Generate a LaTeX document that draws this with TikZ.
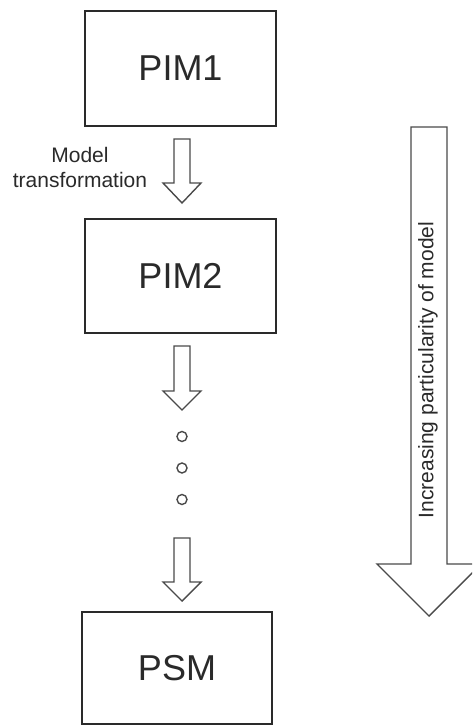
\documentclass[tikz,border=0pt]{standalone}
\usepackage{fontspec}
\setmainfont{Liberation Sans}
\definecolor{inkline}{HTML}{2A2A2A}
\definecolor{arrowgrey}{HTML}{4A4A4A}
\tikzset{
  modelbox/.style={draw=inkline, line width=1.6pt, rectangle, inner sep=0pt,
    text=inkline, font=\fontsize{36}{40}\selectfont},
  fatarrow/.style={draw=arrowgrey, line width=1.4pt, line join=miter, fill=white},
  smalltext/.style={text=inkline, font=\fontsize{21}{25}\selectfont, inner sep=0pt},
  dot/.style={draw=arrowgrey, line width=1.4pt}
}
% hollow block arrow pointing down:
% #1 centre x, #2 top y, #3 head y, #4 tip y, #5 half shaft width, #6 half head width
\newcommand\hollowarrow[6]{%
  \draw[fatarrow] (#1-#5,#2) -- (#1+#5,#2) -- (#1+#5,#3) -- (#1+#6,#3)
    -- (#1,#4) -- (#1-#6,#3) -- (#1-#5,#3) -- cycle;}
\begin{document}
\begin{tikzpicture}[x=1pt,y=-1pt]
  \useasboundingbox (0,0) rectangle (472,725);
  \clip (0,0) rectangle (472,725);
  \fill[white] (0,0) rectangle (472,725);

  % model boxes
  \node[modelbox, minimum width=191pt, minimum height=115pt] (pim1) at (180.5,68.5) {PIM1};
  \node[modelbox, minimum width=191pt, minimum height=114pt] (pim2) at (180.5,276) {PIM2};
  \node[modelbox, minimum width=190pt, minimum height=112pt] (psm) at (177,668) {PSM};

  % transformations between the models
  \hollowarrow{182}{139}{183}{203}{8}{19}
  \node[smalltext, align=center] (trlabel) at (80,167) {Model\\transformation};
  \hollowarrow{182}{346}{391}{410}{8}{19}

  % elided intermediate models
  \draw[dot] (182,436.5) circle (5);
  \draw[dot] (182,468) circle (5);
  \draw[dot] (182,499.5) circle (5);

  \hollowarrow{182}{538}{582}{601}{8}{19}

  % overall direction of refinement
  \hollowarrow{429}{127}{564}{616}{18}{52}
  \node[smalltext, rotate=90] (trend) at (428,370) {Increasing particularity of model};
\end{tikzpicture}
\end{document}
